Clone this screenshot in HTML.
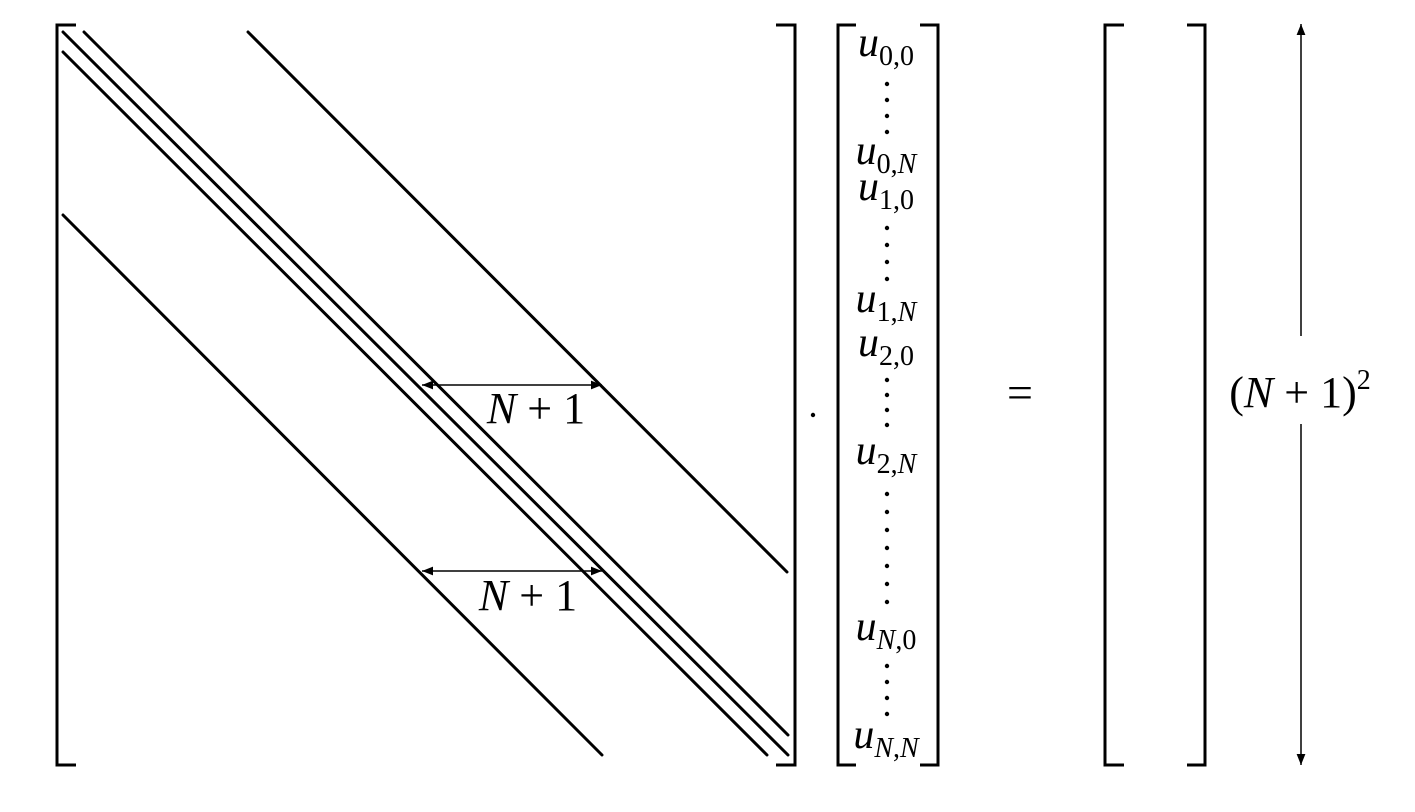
<!DOCTYPE html>
<html><head><meta charset="utf-8"><style>
html,body{margin:0;padding:0;background:#fff;}
svg{display:block;}
text{font-family:"Liberation Serif",serif;fill:#000;}
.u{font-style:italic;font-size:42px;}
.s{font-size:28px;font-style:normal;}
.si{font-size:28px;font-style:italic;}
</style></head><body>
<svg width="1415" height="812" viewBox="0 0 1415 812" xmlns="http://www.w3.org/2000/svg">
<defs>
<marker id="ah" viewBox="0 0 10 10" refX="10" refY="5" markerWidth="16" markerHeight="11" markerUnits="userSpaceOnUse" orient="auto-start-reverse">
<path d="M0,1 L10,5 L0,9 z" fill="#000"/></marker>
</defs>
<g stroke="#000" fill="none" stroke-width="3">
<polyline points="76,25 57,25 57,765 76,765"/>
<polyline points="776,25 795,25 795,765 776,765"/>
<polyline points="856,25 838,25 838,765 856,765"/>
<polyline points="920,25 938,25 938,765 920,765"/>
<polyline points="1124,25 1105,25 1105,765 1124,765"/>
<polyline points="1187,25 1205,25 1205,765 1187,765"/>
</g>
<g stroke="#000" stroke-width="3" stroke-linecap="round">
<line x1="63" y1="32" x2="788" y2="755"/>
<line x1="84" y1="32" x2="788" y2="735"/>
<line x1="63" y1="52" x2="767" y2="755"/>
<line x1="248" y1="32" x2="787" y2="572"/>
<line x1="63" y1="215" x2="602" y2="755"/>
</g>
<g stroke="#000" stroke-width="1.5">
<line x1="422" y1="385" x2="602" y2="385" marker-start="url(#ah)" marker-end="url(#ah)"/>
<line x1="422" y1="571" x2="602" y2="571" marker-start="url(#ah)" marker-end="url(#ah)"/>
<line x1="1301" y1="24" x2="1301" y2="336" marker-start="url(#ah)"/>
<line x1="1301" y1="424" x2="1301" y2="765" marker-end="url(#ah)"/>
</g>
<text x="536" y="423" font-size="44" text-anchor="middle"><tspan font-style="italic">N</tspan> + 1</text>
<text x="528" y="610" font-size="44" text-anchor="middle"><tspan font-style="italic">N</tspan> + 1</text>
<text x="1300" y="407" font-size="44" text-anchor="middle">(<tspan font-style="italic">N</tspan> + 1)<tspan font-size="28" dy="-18">2</tspan></text>
<circle cx="813" cy="415" r="2.2" fill="#000"/>
<text x="1020" y="408" font-size="46" text-anchor="middle">=</text>
<g text-anchor="middle">
<text x="886" y="56" class="u">u<tspan class="s" dy="9">0,0</tspan></text>
<text x="886" y="164" class="u">u<tspan class="s" dy="9">0,</tspan><tspan class="si">N</tspan></text>
<text x="886" y="200" class="u">u<tspan class="s" dy="9">1,0</tspan></text>
<text x="886" y="312" class="u">u<tspan class="s" dy="9">1,</tspan><tspan class="si">N</tspan></text>
<text x="886" y="356" class="u">u<tspan class="s" dy="9">2,0</tspan></text>
<text x="886" y="464" class="u">u<tspan class="s" dy="9">2,</tspan><tspan class="si">N</tspan></text>
<text x="886" y="640" class="u">u<tspan class="si" dy="9">N</tspan><tspan class="s">,0</tspan></text>
<text x="886" y="748" class="u">u<tspan class="si" dy="9">N</tspan><tspan class="s">,</tspan><tspan class="si">N</tspan></text>
</g>
<g fill="#000">
<circle cx="887" cy="84" r="2.2"/><circle cx="887" cy="100" r="2.2"/><circle cx="887" cy="116" r="2.2"/><circle cx="887" cy="132" r="2.2"/>
<circle cx="887" cy="228" r="2.2"/><circle cx="887" cy="245" r="2.2"/><circle cx="887" cy="262" r="2.2"/><circle cx="887" cy="279" r="2.2"/>
<circle cx="887" cy="380" r="2.2"/><circle cx="887" cy="395" r="2.2"/><circle cx="887" cy="410" r="2.2"/><circle cx="887" cy="425" r="2.2"/>
<circle cx="887" cy="494" r="2.2"/><circle cx="887" cy="512" r="2.2"/><circle cx="887" cy="530" r="2.2"/><circle cx="887" cy="548" r="2.2"/><circle cx="887" cy="566" r="2.2"/><circle cx="887" cy="584" r="2.2"/><circle cx="887" cy="602" r="2.2"/>
<circle cx="887" cy="666" r="2.2"/><circle cx="887" cy="682" r="2.2"/><circle cx="887" cy="698" r="2.2"/><circle cx="887" cy="714" r="2.2"/>
</g>
</svg>
</body></html>
